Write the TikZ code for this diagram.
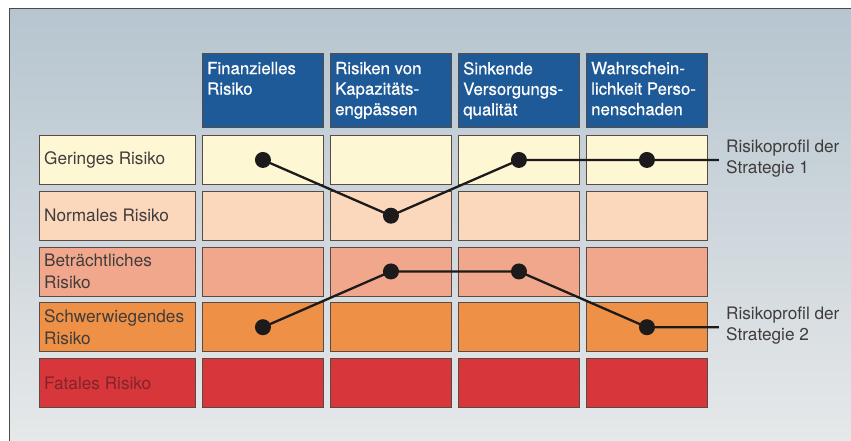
\documentclass[tikz,border=0pt]{standalone}
\usepackage{fontspec}
\setmainfont{TeX Gyre Heros}
\newfontfamily\hdrfamily[FakeBold=0.6]{TeX Gyre Heros}
\definecolor{hdrblue}{HTML}{1F5A98}
\definecolor{rowa}{HTML}{FDF7D3}
\definecolor{rowb}{HTML}{FBD7BC}
\definecolor{rowc}{HTML}{F1A78C}
\definecolor{rowd}{HTML}{EE9046}
\definecolor{rowe}{HTML}{D7363B}
\definecolor{cellline}{HTML}{5A4A45}
\definecolor{lbltext}{HTML}{403C3C}
\definecolor{fataltext}{HTML}{82242A}
\definecolor{dotcol}{HTML}{1C1A1A}
\definecolor{bgtop}{HTML}{B6C5CF}
\definecolor{bgbot}{HTML}{E7E9EA}
\definecolor{framecol}{HTML}{4A4A4A}
\begin{document}
\begin{tikzpicture}[x=1pt,y=-1pt,
  cell/.style={draw=cellline, line width=0.9pt, minimum width=121pt, minimum height=49pt, inner sep=0pt, anchor=north west},
  hdr/.style={cell, fill=hdrblue, minimum height=74pt},
  hdrtext/.style={anchor=north west, inner sep=0pt, align=left, text=white, font=\hdrfamily\fontsize{16.8}{20.5}\selectfont},
  lbl/.style={anchor=west, inner sep=0pt, align=left, text=lbltext, font=\fontsize{17.2}{21.5}\selectfont},
  dot/.style={circle, fill=dotcol, inner sep=0pt, minimum size=16pt},
  prof/.style={draw=dotcol, line width=2.3pt},
]
\useasboundingbox (0,0) rectangle (851,441);
\fill[white] (0,0) rectangle (851,441);
\shade[top color=bgtop, bottom color=bgbot] (9,9) rectangle (860,450);
\draw[framecol, line width=1pt] (860,9) -- (9,9) -- (9,450);

% header boxes
\node[hdr] (h1) at (202,53) {};
\node[hdr] (h2) at (330,53) {};
\node[hdr] (h3) at (458,53) {};
\node[hdr] (h4) at (586,53) {};
\node[hdrtext] (ht1) at ([shift={(5pt,-8.7pt)}]h1.north west) {Finanzielles\\Risiko};
\node[hdrtext] (ht2) at ([shift={(5pt,-8.7pt)}]h2.north west) {Risiken von\\Kapazitäts-\\engpässen};
\node[hdrtext] (ht3) at ([shift={(5pt,-8.7pt)}]h3.north west) {Sinkende\\Versorgungs-\\qualität};
\node[hdrtext] (ht4) at ([shift={(5pt,-8.7pt)}]h4.north west) {Wahrschein-\\lichkeit Perso-\\nenschaden};

% rows
\foreach \r/\col in {1/rowa,2/rowb,3/rowc,4/rowd,5/rowe} {
  \pgfmathsetmacro\yy{135+55.75*(\r-1)}
  \node[cell, fill=\col, minimum width=156pt] (l\r) at (39,\yy) {};
  \foreach \c in {1,...,4} {
    \pgfmathsetmacro\xx{202+128*(\c-1)}
    \node[cell, fill=\col] (c\c\r) at (\xx,\yy) {};
  }
}

% row labels
\node[lbl] (t1) at ([xshift=5pt]l1.west) {Geringes Risiko};
\node[lbl] (t2) at ([xshift=5pt]l2.west) {Normales Risiko};
\node[lbl] (t3) at ([xshift=5pt]l3.west) {Beträchtliches\\Risiko};
\node[lbl] (t4) at ([xshift=5pt]l4.west) {Schwerwiegendes\\Risiko};
\node[lbl, text=fataltext] (t5) at ([xshift=5pt]l5.west) {Fatales Risiko};

% strategy 1
\node[dot] (a1) at (c11.center) {};
\node[dot] (a2) at (c22.center) {};
\node[dot] (a3) at (c31.center) {};
\node[dot] (a4) at (c41.center) {};
\coordinate (e1) at ([xshift=72pt]a4.center);
\draw[prof] (a1.center) -- (a2.center) -- (a3.center) -- (a4.center) -- (e1);
\node[lbl] (p1) at ([shift={(7pt,1.5pt)}]e1) {Risikoprofil der\\Strategie 1};

% strategy 2
\node[dot] (b1) at (c14.center) {};
\node[dot] (b2) at (c23.center) {};
\node[dot] (b3) at (c33.center) {};
\node[dot] (b4) at (c44.center) {};
\coordinate (e2) at ([xshift=72pt]b4.center);
\draw[prof] (b1.center) -- (b2.center) -- (b3.center) -- (b4.center) -- (e2);
\node[lbl] (p2) at ([shift={(7pt,1.5pt)}]e2) {Risikoprofil der\\Strategie 2};
\end{tikzpicture}
\end{document}
